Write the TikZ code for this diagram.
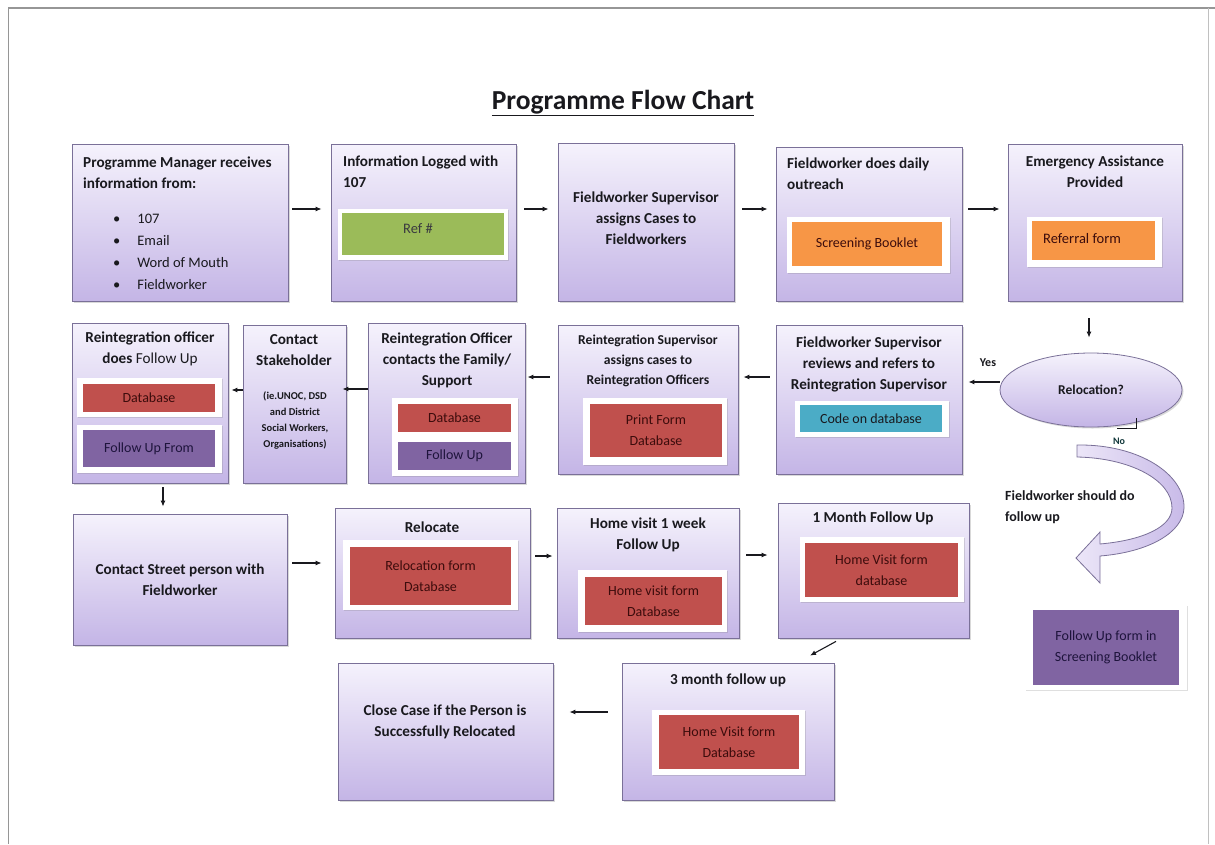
\documentclass[tikz,border=0pt]{standalone}
\usepackage{fontspec}
\setmainfont{Carlito}
\usetikzlibrary{arrows.meta,shapes.geometric,shadows,fit}

\definecolor{boxtop}{RGB}{245,242,252}
\definecolor{boxbot}{RGB}{196,181,230}
\definecolor{boxline}{RGB}{122,112,152}
\definecolor{offgreen}{RGB}{155,187,89}
\definecolor{offorange}{RGB}{247,150,70}
\definecolor{offred}{RGB}{192,80,77}
\definecolor{offpurple}{RGB}{128,100,162}
\definecolor{offcyan}{RGB}{75,172,198}
\definecolor{ink}{RGB}{25,25,30}
\definecolor{redink}{RGB}{60,12,12}
\definecolor{purpleink}{RGB}{30,20,60}
\definecolor{pageline}{RGB}{150,150,150}
\definecolor{arrowfillA}{RGB}{236,230,248}
\definecolor{arrowfillB}{RGB}{200,186,232}

\begin{document}
\begin{tikzpicture}[x=1pt,y=-1pt,
  stage/.style={fit={#1}, inner sep=0pt, draw=boxline, line width=0.8pt,
    top color=boxtop, bottom color=boxbot,
    drop shadow={shadow xshift=1.5pt, shadow yshift=-1.5pt, opacity=0.3}},
  holder/.style={fit={#1}, inner sep=0pt, fill=white,
    drop shadow={shadow xshift=1pt, shadow yshift=-1pt, opacity=0.25}},
  swatch/.style={fit={#1}, inner sep=0pt},
  swtext/.style={inner sep=0pt, align=center, font=\fontsize{14}{21}\selectfont},
  hdr/.style={inner sep=0pt, text=ink, font=\bfseries\fontsize{15.2}{21}\selectfont},
  small/.style={inner sep=0pt, text=ink, font=\bfseries\fontsize{13.6}{20}\selectfont},
  tiny/.style={inner sep=0pt, text=ink, font=\bfseries\fontsize{10.5}{16}\selectfont},
  body/.style={inner sep=0pt, text=ink, font=\fontsize{14.5}{22}\selectfont},
  flow/.style={-{Latex[length=6pt,width=5pt]}, line width=1.1pt, draw=ink},
]
\useasboundingbox (0,0) rectangle (1215,844);

% page edges
\draw[pageline, line width=2pt] (8,8) -- (1215,8);
\draw[pageline, line width=1pt] (8,8) -- (8,844);
\draw[pageline!60, line width=0.8pt] (1208,8) -- (1208,844);

% title
\node[inner sep=0pt, text=ink, font=\bfseries\fontsize{27.5}{32}\selectfont] (title) at (623,103) {\underline{Programme Flow Chart}};

% ---------- first row ----------
\node[stage={(72,144) (288,301)}] (b1) {};
\node[hdr, align=left, anchor=west] (b1t) at (83,172.5) {Programme Manager receives\\information from:};
\node[body, align=left, anchor=west] (b1l) at (113,251.5)
  {\textbullet\hspace{17pt}107\\\textbullet\hspace{17pt}Email\\\textbullet\hspace{17pt}Word of Mouth\\\textbullet\hspace{17pt}Fieldworker};

\node[stage={(331,144) (516,301)}] (b2) {};
\node[hdr, align=left, anchor=west] (b2t) at (343,172) {Information Logged with\\107};
\node[holder={(338,209) (508,260)}] (b2h) {};
\node[swatch={(342,213) (504,255)}, fill=offgreen] (b2s) {};
\node[body, text=ink!85] (b2r) at (418,229) {Ref \#};

\node[stage={(558,143) (734,301)}] (b3) {};
\node[hdr, align=center] (b3t) at (646,218) {Fieldworker Supervisor\\assigns Cases to\\Fieldworkers};

\node[stage={(776,147) (962,301)}] (b4) {};
\node[hdr, align=left, anchor=west] (b4t) at (787,174) {Fieldworker does daily\\outreach};
\node[holder={(787,217) (950,273)}] (b4h) {};
\node[swatch={(792,222) (942,266)}, fill=offorange] (b4s) {};
\node[swtext, text=redink] (b4l) at (b4s) {Screening Booklet};

\node[stage={(1008,144) (1182,301)}] (b5) {};
\node[hdr, align=center] (b5t) at (1095,172) {Emergency Assistance\\Provided};
\node[holder={(1027,217) (1162,267)}] (b5h) {};
\node[swatch={(1032,221) (1155,260)}, fill=offorange] (b5s) {};
\node[body, text=redink, anchor=west] (b5r) at (1043,239) {Referral form};

% ---------- decision ----------
\node[ellipse, draw=boxline, line width=0.8pt, top color=boxtop, bottom color=boxbot,
  minimum width=182pt, minimum height=74pt, inner sep=0pt,
  drop shadow={shadow xshift=1.5pt, shadow yshift=-1.5pt, opacity=0.3},
  font=\bfseries\fontsize{13.5}{16}\selectfont, text=ink] (rel) at (1091,390) {Relocation?};
\node[small, font=\bfseries\fontsize{12}{14}\selectfont] (yes) at (988,363) {Yes};
\coordinate (nojoint) at (1136,418);
\draw[ink, line width=0.9pt] (nojoint) -- ++(0,10) -- ++(-19,0);
\node[inner sep=0pt, text=ink!70!teal, font=\bfseries\fontsize{10}{12}\selectfont] (no) at (1119,441) {No};

% ---------- second row ----------
\node[stage={(776,325) (962,474)}] (b6) {};
\node[hdr, align=center] (b6t) at (869,364) {Fieldworker Supervisor\\reviews and refers to\\Reintegration Supervisor};
\node[holder={(795,401) (949,437)}] (b6h) {};
\node[swatch={(800,405) (942,432)}, fill=offcyan] (b6s) {};
\node[swtext, text=ink] (b6l) at (b6s) {Code on database};

\node[stage={(558,325) (738,474)}] (b7) {};
\node[small, align=center] (b7t) at (648,361) {Reintegration Supervisor\\assigns cases to\\Reintegration Officers};
\node[holder={(583,398) (727,465)}] (b7h) {};
\node[swatch={(590,404) (722,457)}, fill=offred] (b7s) {};
\node[swtext, text=redink] (b7l) at (b7s) {Print Form\\Database};

\node[stage={(368,323) (525,483)}] (b8) {};
\node[hdr, align=center] (b8t) at (447,360) {Reintegration Officer\\contacts the Family/\\Support};
\node[holder={(392,398) (518,476)}] (b8h) {};
\node[swatch={(398,404) (511,432)}, fill=offred] (b8s) {};
\node[swtext, text=redink] (b8l) at (b8s) {Database};
\node[swatch={(398,442) (511,470)}, fill=offpurple] (b8p) {};
\node[swtext, text=purpleink] (b8m) at (b8p) {Follow Up};

\node[stage={(243,325) (346,483)}] (b9) {};
\node[hdr, align=center] (b9t) at (294,350) {Contact\\Stakeholder};
\node[tiny, align=center] (b9n) at (295,420) {(ie.UNOC, DSD\\and District\\Social Workers,\\Organisations)};

\node[stage={(72,323) (228,483)}] (b10) {};
\node[hdr, align=center] (b10t) at (150,349) {Reintegration officer\\does {\mdseries Follow Up}};
\node[holder={(77,378) (222,417)}] (b10h) {};
\node[swatch={(83,384) (215,412)}, fill=offred] (b10s) {};
\node[swtext, text=redink] (b10l) at (b10s) {Database};
\node[holder={(77,425) (222,473)}] (b10g) {};
\node[swatch={(83,430) (215,467)}, fill=offpurple] (b10p) {};
\node[swtext, text=purpleink] (b10m) at (b10p) {Follow Up From};

% ---------- third row ----------
\node[stage={(73,514) (287,645)}] (b11) {};
\node[hdr, align=center] (b11t) at (180,580) {Contact Street person with\\Fieldworker};

\node[stage={(335,508) (530,638)}] (b12) {};
\node[hdr] (b12t) at (432,527) {Relocate};
\node[holder={(343,540) (518,610)}] (b12h) {};
\node[swatch={(350,547) (511,605)}, fill=offred] (b12s) {};
\node[swtext, text=redink] (b12l) at (b12s) {Relocation form\\Database};

\node[stage={(557,508) (739,638)}] (b13) {};
\node[hdr, align=center] (b13t) at (648,535) {Home visit 1 week\\Follow Up};
\node[holder={(578,570) (727,632)}] (b13h) {};
\node[swatch={(585,577) (722,625)}, fill=offred] (b13s) {};
\node[swtext, text=redink] (b13l) at (b13s) {Home visit form\\Database};

\node[stage={(778,503) (969,638)}] (b14) {};
\node[hdr] (b14t) at (873,518) {1 Month Follow Up};
\node[holder={(800,537) (964,602)}] (b14h) {};
\node[swatch={(805,543) (958,597)}, fill=offred] (b14s) {};
\node[swtext, text=redink] (b14l) at (b14s) {Home Visit form\\database};

% ---------- fourth row ----------
\node[stage={(622,663) (834,800)}] (b15) {};
\node[hdr] (b15t) at (728,680) {3 month follow up};
\node[holder={(652,710) (805,775)}] (b15h) {};
\node[swatch={(659,715) (799,769)}, fill=offred] (b15s) {};
\node[swtext, text=redink] (b15l) at (b15s) {Home Visit form\\Database};

\node[stage={(338,663) (553,800)}] (b16) {};
\node[hdr, align=center] (b16t) at (445,722) {Close Case if the Person is\\Successfully Relocated};

% ---------- "no" branch ----------
\draw[draw=boxline, line width=0.8pt, left color=arrowfillA, right color=arrowfillB]
  (1077,445) .. controls (1140,444) and (1185,475) .. (1184,508)
  .. controls (1183,532) and (1150,552) .. (1100,556)
  -- (1100,583) -- (1076,558) -- (1100,532) -- (1100,544)
  .. controls (1145,540) and (1172,526) .. (1172,508)
  .. controls (1172,480) and (1130,458) .. (1077,457) -- cycle;
\node[hdr, align=left, anchor=west, font=\bfseries\fontsize{14}{21}\selectfont] (fsd) at (1005,507) {Fieldworker should do\\follow up};
\node[holder={(1025,605) (1187,690)}] (fuh) {};
\node[swatch={(1033,610) (1179,685)}, fill=offpurple] (fus) {};
\node[swtext, text=purpleink] (ful) at (fus) {Follow Up form in\\Screening Booklet};

% ---------- connectors ----------
\draw[flow] ([xshift=4pt,yshift=13.5pt]b1.east) -- ([xshift=-9pt,yshift=13.5pt]b2.west);
\draw[flow] ([xshift=8pt,yshift=13.5pt]b2.east) -- ([xshift=-9pt,yshift=13pt]b3.west);
\draw[flow] ([xshift=8pt,yshift=13pt]b3.east) -- ([xshift=-8pt,yshift=15pt]b4.west);
\draw[flow] ([xshift=6pt,yshift=15pt]b4.east) -- ([xshift=-8pt,yshift=13.5pt]b5.west);
\draw[flow] ([xshift=-6pt,yshift=-17pt]b5.south) -- ([xshift=-2pt,yshift=15pt]rel.north);
\draw[flow] ([yshift=8pt]rel.west) -- ([xshift=6pt,yshift=17.5pt]b6.east);
\draw[flow] ([xshift=-6pt,yshift=22.5pt]b6.west) -- ([xshift=5pt,yshift=22.5pt]b7.east);
\draw[flow] ([xshift=-8pt,yshift=22.5pt]b7.west) -- ([xshift=2pt,yshift=26pt]b8.east);
\draw[flow] ([yshift=14pt]b8.west) -- ([xshift=-4pt,yshift=15pt]b9.east);
\draw[flow] ([yshift=14pt]b9.west) -- ([xshift=3pt,yshift=13pt]b10.east);
\draw[flow] ([xshift=13pt,yshift=-4pt]b10.south) -- ([xshift=-17pt,yshift=7pt]b11.north);
\draw[flow] ([xshift=5pt,yshift=16.5pt]b11.east) -- ([xshift=-13pt,yshift=10pt]b12.west);
\draw[flow] ([xshift=5pt,yshift=17pt]b12.east) -- ([xshift=-4pt,yshift=17pt]b13.west);
\draw[flow] ([xshift=7pt,yshift=18pt]b13.east) -- ([xshift=-10pt,yshift=15.5pt]b14.west);
\draw[flow] ([xshift=-37.5pt,yshift=-3pt]b14.south) -- ([xshift=82pt,yshift=7pt]b15.north);
\draw[flow] ([xshift=-14pt,yshift=19.5pt]b15.west) -- ([xshift=16pt,yshift=19.5pt]b16.east);
\end{tikzpicture}
\end{document}
